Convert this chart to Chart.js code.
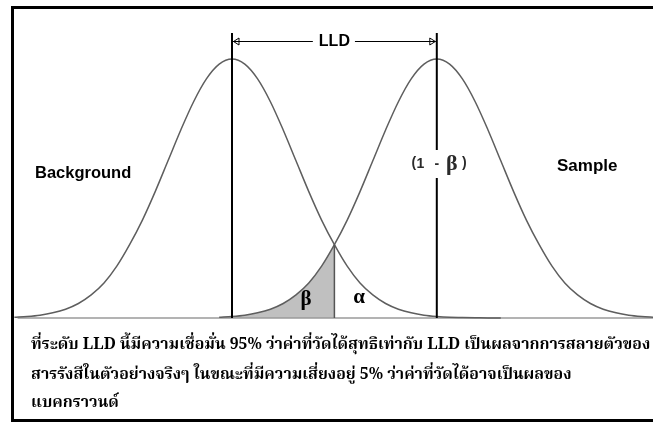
<!DOCTYPE html>
<html>
<head>
<meta charset="utf-8">
<script src="https://cdn.jsdelivr.net/npm/chart.js@4"></script>
<style>
  html, body { margin: 0; padding: 0; background: #ffffff; }
  canvas { display: block; }
</style>
</head>
<body>
<canvas id="c" width="653" height="423"></canvas>
<script>
// ---- data (x in standard-deviation units, y as fraction of peak height) ----
const xGrid = [
  -3.4, -3.2, -3.0, -2.8, -2.6, -2.4, -2.2, -2.0, -1.8, -1.6,
  -1.4, -1.2, -1.0, -0.8, -0.6, -0.4, -0.2, 0.0, 0.2, 0.4,
  0.6, 0.8, 1.0, 1.2, 1.4, 1.6, 1.8, 2.0, 2.2, 2.4,
  2.6, 2.8, 3.0, 3.2, 3.4, 3.6, 3.8, 4.0, 4.2, 4.4,
  4.6, 4.8, 5.0, 5.2, 5.4, 5.6, 5.8, 6.0, 6.2, 6.4, 6.6
];
const backgroundCurve = [
  0.003, 0.006, 0.011, 0.020, 0.034, 0.056, 0.089, 0.135, 0.200, 0.283,
  0.378, 0.488, 0.607, 0.726, 0.835, 0.923, 0.980, 1.000, 0.980, 0.923,
  0.835, 0.726, 0.607, 0.488, 0.378, 0.283, 0.200, 0.135, 0.089, 0.056,
  0.034, 0.020, 0.011, 0.006, 0.003, 0.002, 0.001, 0.000, 0.000, null,
  null, null, null, null, null, null, null, null, null, null, null
];
const sampleCurve = [
  null, null, null, null, null, null, null, null, null, null,
  null, null, null, null, null, null, 0.003, 0.006, 0.011, 0.020,
  0.034, 0.056, 0.089, 0.135, 0.200, 0.283, 0.378, 0.488, 0.607, 0.726,
  0.835, 0.923, 0.980, 1.000, 0.980, 0.923, 0.835, 0.726, 0.607, 0.488,
  0.378, 0.283, 0.200, 0.135, 0.089, 0.056, 0.034, 0.020, 0.011, 0.006, 0.003
];
const betaArea = [
  null, null, null, null, null, null, null, null, null, null,
  null, null, null, null, null, null, 0.003, 0.006, 0.011, 0.020,
  0.034, 0.056, 0.089, 0.135, 0.200, 0.283, null, null, null, null,
  null, null, null, null, null, null, null, null, null, null,
  null, null, null, null, null, null, null, null, null, null, null
];
const backgroundMean = 0.0;
const sampleMean = 3.2;
const crossingX = 1.6;
const crossingY = 0.283;
const baselineRange = [-3.35, 6.6];

const curveLabels = ["Background", "Sample"];
const lldLabel = "LLD";
const powerParts = ["(", "1", "-", "β", ")"];
const betaLabel = "β";
const alphaLabel = "α";
const noteLines = [
  "ที่ระดับ LLD นี้มีความเชื่อมั่น 95% ว่าค่าที่วัดได้สุทธิเท่ากับ LLD เป็นผลจากการสลายตัวของ",
  "สารรังสีในตัวอย่างจริงๆ ในขณะที่มีความเสี่ยงอยู่ 5% ว่าค่าที่วัดได้อาจเป็นผลของ",
  "แบคกราวนด์"
];

const toPts = arr => xGrid.map((x, i) => ({ x: x, y: arr[i] }));

const SANS = '"Liberation Sans", Arial, sans-serif';
const SERIF = '"Liberation Serif", "Times New Roman", serif';
const THAI = '"Noto Serif Thai", "Noto Sans Thai", "Angsana New", "Norasi", "Loma", "Garuda", "Tlwg Typo", "Liberation Serif", serif';

const overlay = {
  id: 'overlay',
  afterDatasetsDraw(chart) {
    const ctx = chart.ctx;
    const xs = chart.scales.x, ys = chart.scales.y;
    const xb = xs.getPixelForValue(backgroundMean);
    const xsm = xs.getPixelForValue(sampleMean);
    const y0 = ys.getPixelForValue(0);
    const topY = 33;
    const lldY = 41;
    ctx.save();

    // intersection line
    const xc = xs.getPixelForValue(crossingX);
    ctx.strokeStyle = '#555555';
    ctx.lineWidth = 1.5;
    ctx.beginPath();
    ctx.moveTo(xc, ys.getPixelForValue(crossingY));
    ctx.lineTo(xc, y0);
    ctx.stroke();

    // mean lines
    ctx.strokeStyle = '#000000';
    ctx.lineWidth = 2;
    [xb, xsm].forEach(px => {
      ctx.beginPath();
      ctx.moveTo(px, topY);
      ctx.lineTo(px, y0);
      ctx.stroke();
    });

    // LLD arrow
    ctx.font = 'bold 16px ' + SANS;
    const lw = ctx.measureText(lldLabel).width;
    const mid = (xb + xsm) / 2;
    ctx.lineWidth = 1;
    ctx.beginPath();
    ctx.moveTo(xb + 1, lldY + 0.5); ctx.lineTo(mid - lw / 2 - 6, lldY + 0.5);
    ctx.moveTo(mid + lw / 2 + 5, lldY + 0.5); ctx.lineTo(xsm - 1, lldY + 0.5);
    ctx.moveTo(xb + 7, lldY - 3); ctx.lineTo(xb + 1.5, lldY + 0.5); ctx.lineTo(xb + 7, lldY + 4); ctx.lineTo(xb + 7, lldY - 3);
    ctx.moveTo(xsm - 7, lldY - 3); ctx.lineTo(xsm - 1.5, lldY + 0.5); ctx.lineTo(xsm - 7, lldY + 4); ctx.lineTo(xsm - 7, lldY - 3);
    ctx.stroke();
    ctx.fillStyle = '#000000';
    ctx.textAlign = 'center';
    ctx.textBaseline = 'middle';
    ctx.fillText(lldLabel, mid, lldY + 1);

    // Curve labels
    ctx.font = 'bold 16.5px ' + SANS;
    ctx.textAlign = 'left';
    ctx.fillText(curveLabels[0], 35, 173);
    ctx.font = 'bold 17px ' + SANS;
    ctx.fillText(curveLabels[1], 557, 166);

    // (1 - β) with white gap in the line
    ctx.fillStyle = '#ffffff';
    ctx.fillRect(xsm - 4, 150, 8, 28);
    const f1 = 'bold 14px ' + SANS, f2 = 'bold 22px ' + SERIF;
    ctx.fillStyle = '#2a2a2a';
    ctx.textAlign = 'center';
    ctx.font = f1;
    ctx.fillText(powerParts[0], xsm - 23, 163);
    ctx.fillText(powerParts[1], xsm - 16.5, 164);
    ctx.fillText(powerParts[2], xsm, 164);
    ctx.fillText(powerParts[4], xsm + 27.5, 163);
    ctx.font = f2;
    ctx.fillText(powerParts[3], xsm + 15, 164);

    // beta / alpha
    ctx.fillStyle = '#000000';
    ctx.textAlign = 'center';
    ctx.font = 'bold 21px ' + SERIF;
    ctx.fillText(betaLabel, 306, 300);
    ctx.fillText(alphaLabel, 359, 298);

    // Thai note
    let fs = 17;
    ctx.font = 'bold ' + fs + 'px ' + THAI;
    const w = ctx.measureText(noteLines[0]).width;
    fs = Math.max(12, Math.min(22, fs * 620 / w));
    ctx.font = 'bold ' + fs + 'px ' + THAI;
    ctx.textAlign = 'left';
    ctx.textBaseline = 'middle';
    ctx.fillText(noteLines[0], 31, 346);
    ctx.fillText(noteLines[1], 31, 376);
    ctx.fillText(noteLines[2], 31, 404);

    // frame
    ctx.strokeStyle = '#000000';
    ctx.lineWidth = 3;
    ctx.strokeRect(12.5, 7.5, 660, 413);
    ctx.restore();
  }
};

new Chart(document.getElementById('c'), {
  type: 'scatter',
  data: {
    datasets: [
      { label: 'beta', data: toPts(betaArea), showLine: true, fill: 'origin',
        backgroundColor: '#c0c0c0', borderWidth: 0, borderColor: 'rgba(0,0,0,0)',
        pointRadius: 0, cubicInterpolationMode: 'monotone', order: 5 },
      { label: 'axis', data: [{ x: baselineRange[0], y: 0 }, { x: baselineRange[1], y: 0 }],
        showLine: true, borderColor: '#9a9a9a', borderWidth: 1.5, pointRadius: 0, order: 4 },
      { label: curveLabels[0], data: toPts(backgroundCurve), showLine: true, fill: false,
        borderColor: '#5e5e5e', borderWidth: 1.5, pointRadius: 0, cubicInterpolationMode: 'monotone', order: 2 },
      { label: curveLabels[1], data: toPts(sampleCurve), showLine: true, fill: false,
        borderColor: '#5e5e5e', borderWidth: 1.5, pointRadius: 0, cubicInterpolationMode: 'monotone', order: 2 }
    ]
  },
  options: {
    responsive: false,
    animation: false,
    events: [],
    layout: { padding: 0 },
    plugins: { legend: { display: false }, tooltip: { enabled: false }, title: { display: false } },
    scales: {
      x: { type: 'linear', display: false, min: -232 / 64, max: (653 - 232) / 64 },
      y: { type: 'linear', display: false, min: -(423 - 318) / 259, max: 318 / 259 }
    }
  },
  plugins: [overlay]
});
</script>
</body>
</html>
